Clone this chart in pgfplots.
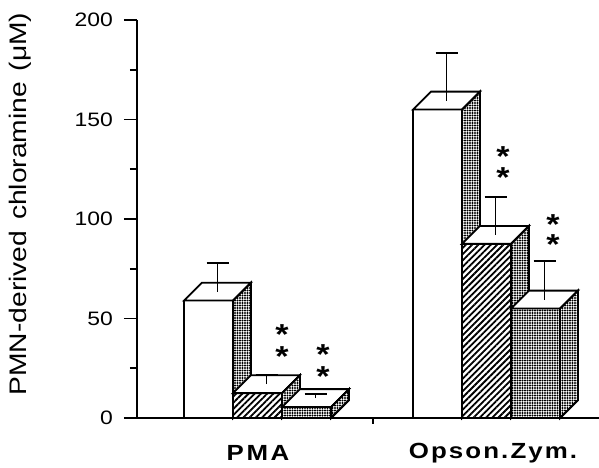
\documentclass[border=0pt]{standalone}
\usepackage{fontspec}
\setmainfont{Liberation Sans}
\newfontfamily\figfont{Liberation Sans}[FakeStretch=1.18]
\usepackage{pgfplots}
\pgfplotsset{compat=1.18}
\usetikzlibrary{patterns.meta}

\tikzset{
  dotsface/.style={preaction={fill=white}, pattern={Dots[distance=2.5bp, radius=1.12bp]}, pattern color=black},
  hatchface/.style={preaction={fill=white}, pattern={Lines[angle=45, distance=4.4bp, line width=1.8bp]}, pattern color=black},
  whiteface/.style={fill=white},
  star/.style={font=\figfont\bfseries\fontsize{29}{29}\selectfont, anchor=center, inner sep=0pt},
  ylab/.style={font=\figfont\fontsize{19.5}{19.5}\selectfont, anchor=east, inner sep=0pt, xshift=-24bp},
}
\newcommand\sig{\raisebox{-0.575em}[0.15em][0.15em]{*}}

% bar width 49 (x units), depth offset: 18 in x, 9 in y (=18bp)
\newcommand\tdbar[4]{% #1 x left, #2 value, #3 front style, #4 side style
  \pgfmathsetmacro\xa{#1}%
  \pgfmathsetmacro\xb{#1+49}%
  \pgfmathsetmacro\xc{#1+18}%
  \pgfmathsetmacro\xd{#1+49+18}%
  \pgfmathsetmacro\yt{#2+9}%
  \addplot[#3, draw=black, line width=1.8bp] coordinates {(\xa,0) (\xb,0) (\xb,#2) (\xa,#2)} --cycle;
  \addplot[fill=white, draw=black, line width=1.8bp] coordinates {(\xa,#2) (\xb,#2) (\xd,\yt) (\xc,\yt)} --cycle;
  \addplot[#4, draw=black, line width=1.8bp] coordinates {(\xb,0) (\xd,9) (\xd,\yt) (\xb,#2)} --cycle;
}
\newcommand\errbar[3]{% #1 x left, #2 value, #3 error
  \pgfmathsetmacro\xm{#1+24.5+9}%
  \pgfmathsetmacro\xl{\xm-11}%
  \pgfmathsetmacro\xr{\xm+11}%
  \pgfmathsetmacro\ya{#2+4.5}%
  \pgfmathsetmacro\yb{#2+4.5+#3}%
  \addplot[black, line width=1.8bp] coordinates {(\xm,\ya) (\xm,\yb)};
  \addplot[black, line width=1.8bp] coordinates {(\xl,\yb) (\xr,\yb)};
}

\begin{document}
\begin{tikzpicture}[x=1bp,y=1bp]
\useasboundingbox (-137bp,-50bp) rectangle (462bp,418bp);
\begin{axis}[
  at={(0,0)}, anchor=south west, scale only axis,
  width=462bp, height=398bp,
  xmin=0, xmax=462, ymin=0, ymax=200,
  axis x line=bottom, axis y line=left,
  axis line style={-, line width=1.8bp},
  ytick={0,50,...,200}, minor ytick={25,75,125,175},
  yticklabels={},
  xtick=\empty,
  tick align=outside, major tick length=13bp, minor tick length=7bp,
  tick style={line width=1.8bp, black},
  clip=false,
]
% PMA: control, treatment A, treatment B
\tdbar{47}{59}{whiteface}{dotsface}
\tdbar{96}{12.5}{hatchface}{dotsface}
\tdbar{145}{5.5}{dotsface}{dotsface}
% Opson. Zym.
\tdbar{276}{155}{whiteface}{dotsface}
\tdbar{325}{87.5}{hatchface}{dotsface}
\tdbar{374}{55}{dotsface}{dotsface}
% error bars
\errbar{47}{59}{14.5}
\errbar{96}{12.5}{4.5}
\errbar{145}{5.5}{2}
\errbar{276}{155}{24}
\errbar{325}{87.5}{19}
\errbar{374}{55}{19.5}
% significance marks
\node[star] at (axis cs:145,45.2) {\sig};
\node[star] at (axis cs:145,34.2) {\sig};
\node[star] at (axis cs:186,35.2) {\sig};
\node[star] at (axis cs:186,24.1) {\sig};
\node[star] at (axis cs:366,134.7) {\sig};
\node[star] at (axis cs:366,124.1) {\sig};
\node[star] at (axis cs:416,100.5) {\sig};
\node[star] at (axis cs:416,90.5) {\sig};
% y tick labels
\node[ylab] at (axis cs:0,0) {0};
\node[ylab] at (axis cs:0,50) {50};
\node[ylab] at (axis cs:0,100) {100};
\node[ylab] at (axis cs:0,150) {150};
\node[ylab] at (axis cs:0,200) {200};
% group divider tick
\draw[line width=1.8bp] (axis cs:236,0) -- ++(0,-6bp);
% category labels
\node[font=\figfont\bfseries\fontsize{22}{22}\selectfont] at (axis cs:121,0) [yshift=-35bp] {P\kern2.7pt M\kern2.7pt A};
\node[font=\figfont\bfseries\fontsize{22}{22}\selectfont] at (axis cs:356,0) [yshift=-35bp] {O\kern2.1pt p\kern2.1pt s\kern2.1pt o\kern2.1pt n\kern2.1pt .\kern2.1pt Z\kern2.1pt y\kern2.1pt m\kern2.1pt .};
\end{axis}
\node[rotate=90, font=\figfont\fontsize{24}{24}\selectfont] at (-117bp,214bp) {PMN-derived\hspace{0.45em}chloramine\hspace{0.45em}(μM)};
\end{tikzpicture}
\end{document}
